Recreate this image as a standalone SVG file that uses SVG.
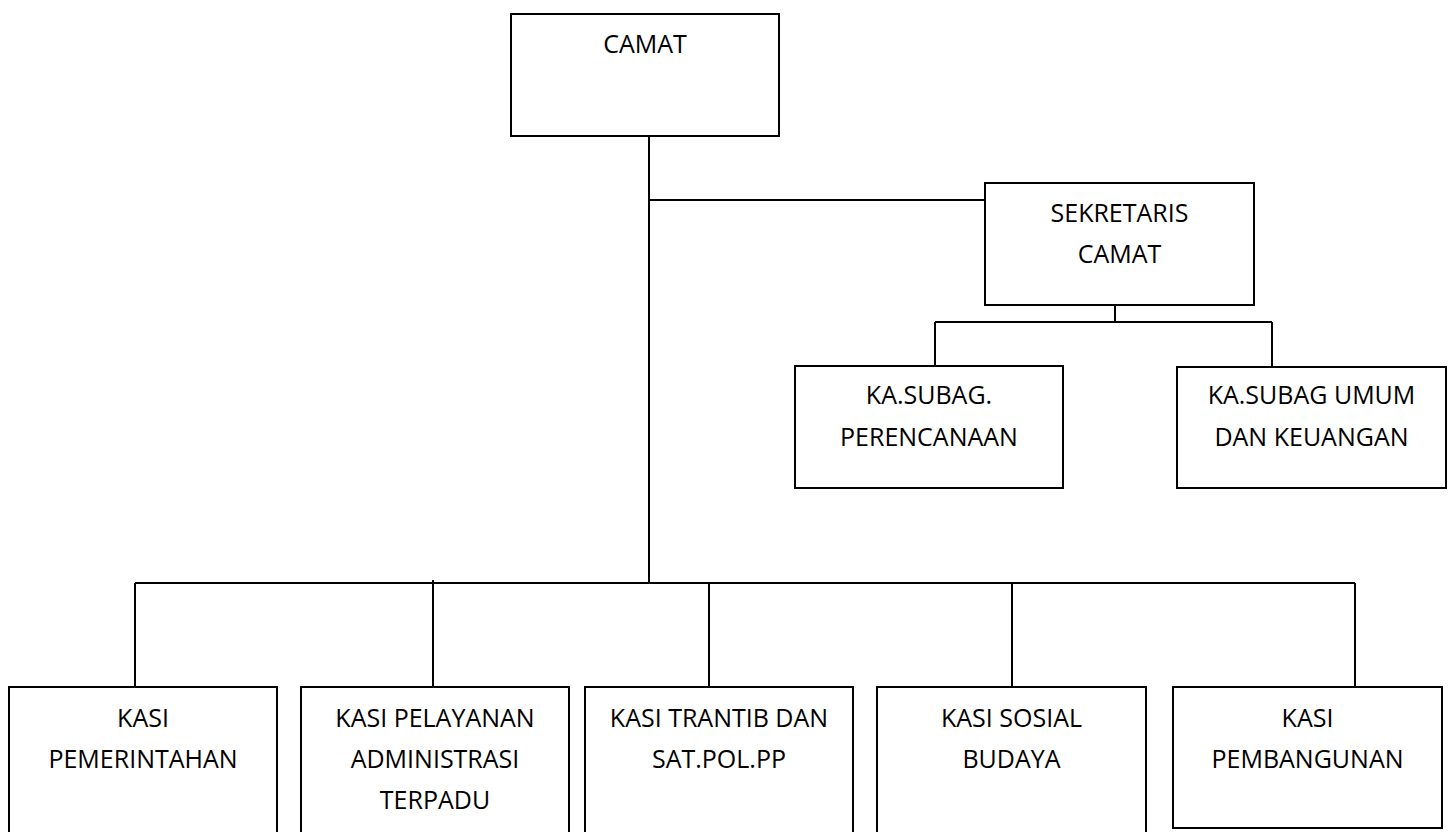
<svg xmlns="http://www.w3.org/2000/svg" width="1452" height="832" viewBox="0 0 1452 832">
<style>
.box{fill:#fff;stroke:#000;stroke-width:2}
.ln{fill:none;stroke:#000;stroke-width:2}
.t{font-family:"Open Sans","Liberation Sans",sans-serif;font-size:25px;fill:#000;text-anchor:middle}
</style>
<rect width="1452" height="832" fill="#fff"/>
<g id="connectors">
<path class="ln" d="M649 136V583"/>
<path class="ln" d="M649 200H985"/>
<path class="ln" d="M1115 305V322"/>
<path class="ln" d="M935 322H1272"/>
<path class="ln" d="M935 322V366"/>
<path class="ln" d="M1272 322V367"/>
<path class="ln" d="M135 583H1355"/>
<path class="ln" d="M135 583V687"/>
<path class="ln" d="M433 580V687"/>
<path class="ln" d="M709 583V687"/>
<path class="ln" d="M1012 583V687"/>
<path class="ln" d="M1355 583V687"/>
</g>
<g id="camat">
<rect class="box" x="511" y="14" width="268" height="122"/>
<text class="t" x="645" y="53">CAMAT</text>
</g>
<g id="sekretaris">
<rect class="box" x="985" y="183" width="269" height="122"/>
<text class="t" x="1119.5" y="222">SEKRETARIS</text>
<text class="t" x="1119.5" y="263">CAMAT</text>
</g>
<g id="perencanaan">
<rect class="box" x="795" y="366" width="268" height="122"/>
<text class="t" x="929" y="404">KA.SUBAG.</text>
<text class="t" x="929" y="446">PERENCANAAN</text>
</g>
<g id="umum">
<rect class="box" x="1177" y="367" width="269" height="121"/>
<text class="t" x="1311.5" y="404">KA.SUBAG UMUM</text>
<text class="t" x="1311.5" y="446">DAN KEUANGAN</text>
</g>
<g id="pemerintahan">
<rect class="box" x="9" y="687" width="268" height="160"/>
<text class="t" x="143" y="727">KASI</text>
<text class="t" x="143" y="768">PEMERINTAHAN</text>
</g>
<g id="pelayanan">
<rect class="box" x="301" y="687" width="268" height="160"/>
<text class="t" x="435" y="727">KASI PELAYANAN</text>
<text class="t" x="435" y="768">ADMINISTRASI</text>
<text class="t" x="435" y="809">TERPADU</text>
</g>
<g id="trantib">
<rect class="box" x="585" y="687" width="268" height="160"/>
<text class="t" x="719" y="727">KASI TRANTIB DAN</text>
<text class="t" x="719" y="768">SAT.POL.PP</text>
</g>
<g id="sosial">
<rect class="box" x="877" y="687" width="269" height="160"/>
<text class="t" x="1011.5" y="727">KASI SOSIAL</text>
<text class="t" x="1011.5" y="768">BUDAYA</text>
</g>
<g id="pembangunan">
<rect class="box" x="1173" y="687" width="269" height="141"/>
<text class="t" x="1307.5" y="727">KASI</text>
<text class="t" x="1307.5" y="768">PEMBANGUNAN</text>
</g>
</svg>
